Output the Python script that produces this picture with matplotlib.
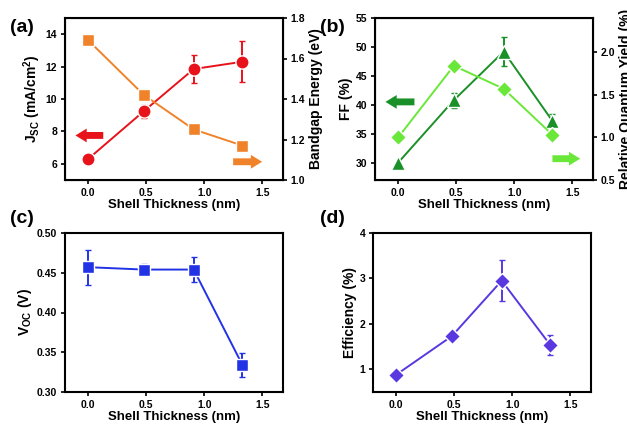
import numpy as np
import matplotlib
matplotlib.use("Agg")
import matplotlib.pyplot as plt

plt.rcParams['font.family'] = ['Liberation Sans', 'DejaVu Sans']
plt.rcParams['font.weight'] = 'bold'
plt.rcParams['axes.labelweight'] = 'bold'
plt.rcParams['mathtext.fontset'] = 'custom'
plt.rcParams['mathtext.rm'] = 'Liberation Sans:bold'
plt.rcParams['mathtext.bf'] = 'Liberation Sans:bold'
plt.rcParams['mathtext.default'] = 'bf'

# data
thick = [0.0, 0.48, 0.91, 1.33]
jsc = [6.3, 9.25, 11.85, 12.3]
jsc_err = [0.0, 0.4, 0.85, 1.25]
gap = [1.69, 1.42, 1.25, 1.17]
ff = [30.0, 40.8, 49.2, 37.2]
ff_err = [0.0, 1.3, 2.5, 1.2]
qy = [1.0, 1.84, 1.57, 1.03]
voc = [0.457, 0.454, 0.454, 0.334]
voc_err = [0.022, 0.007, 0.016, 0.015]
eff = [0.88, 1.73, 2.95, 1.53]
eff_err = [0.0, 0.0, 0.45, 0.22]

red = '#e8121a'
orange = '#f0822a'
dgreen = '#1a9028'
lgreen = '#6ae83a'
blue = '#2233e6'
purple = '#5a38e0'

fig = plt.figure(figsize=(6.27, 4.24), dpi=100)

W = 218 / 627
def box(l, t, b):
    return [l / 627, 1 - b / 424, W, (b - t) / 424]

def style(ax):
    for s in ax.spines.values():
        s.set_linewidth(1.5)
    ax.tick_params(labelsize=7.5, width=1.2, length=3, direction='out', pad=2.5)
    ax.set_xlim(-0.2, 1.68)
    ax.set_xticks([0.0, 0.5, 1.0, 1.5])
    ax.set_xticklabels(['0.0', '0.5', '1.0', '1.5'])
    ax.set_xlabel('Shell Thickness (nm)', fontsize=9.5, labelpad=1)

def arrow(ax, x0, x1, y, c):
    ax.annotate('', xy=(x1, y), xytext=(x0, y),
                arrowprops=dict(arrowstyle='simple,head_length=0.9,head_width=1.1,tail_width=0.55',
                                mutation_scale=9, fc=c, ec='none', shrinkA=0, shrinkB=0))

mk = dict(mec='white', mew=1.0, lw=1.4, elinewidth=1.4, capsize=2, capthick=1.2)

# (a)
ax = fig.add_axes(box(65, 18, 180))
style(ax)
ax.errorbar(thick, jsc, yerr=jsc_err, color=red, marker='o', ms=9.5, **mk)
ax.set_ylim(5, 15)
ax.set_yticks([6, 8, 10, 12, 14])
ax.set_ylabel(r'J$_{SC}$ (mA/cm$^{2}$)', fontsize=10, labelpad=2)
arrow(ax, 0.13, -0.11, 7.75, red)
ax2 = ax.twinx()
ax2.plot(thick, gap, color=orange, marker='s', ms=8.5, mec='white', mew=1.0, lw=1.4)
ax2.set_ylim(1.0, 1.8)
ax2.set_yticks([1.0, 1.2, 1.4, 1.6, 1.8])
ax2.tick_params(labelsize=7.5, width=1.2, length=3, pad=2.5)
ax2.set_ylabel('Bandgap Energy (eV)', fontsize=10, labelpad=3)
arrow(ax2, 1.25, 1.5, 1.09, orange)
fig.text(10 / 627, 1 - 28 / 424, '(a)', fontsize=14, fontweight='bold', va='center')

# (b)
ax = fig.add_axes(box(375, 18, 180))
style(ax)
ax.errorbar(thick, ff, yerr=ff_err, color=dgreen, marker='^', ms=9.5, **mk)
ax.set_ylim(27, 55)
ax.set_yticks([30, 35, 40, 45, 50, 55])
ax.set_ylabel('FF (%)', fontsize=10, labelpad=2)
arrow(ax, 0.14, -0.11, 40.5, dgreen)
ax2 = ax.twinx()
ax2.plot(thick, qy, color=lgreen, marker='D', ms=8, mec='white', mew=1.0, lw=1.4)
ax2.set_ylim(0.5, 2.4)
ax2.set_yticks([0.5, 1.0, 1.5, 2.0])
ax2.tick_params(labelsize=7.5, width=1.2, length=3, pad=2.5)
ax2.set_ylabel('Relative Quantum Yield (%)', fontsize=10, labelpad=3)
arrow(ax2, 1.33, 1.57, 0.75, lgreen)
fig.text(320 / 627, 1 - 28 / 424, '(b)', fontsize=14, fontweight='bold', va='center')

# (c)
ax = fig.add_axes(box(65, 233, 392))
style(ax)
ax.errorbar(thick, voc, yerr=voc_err, color=blue, marker='s', ms=8.5, **mk)
ax.set_ylim(0.30, 0.50)
ax.set_yticks([0.30, 0.35, 0.40, 0.45, 0.50])
ax.set_yticklabels(['0.30', '0.35', '0.40', '0.45', '0.50'])
ax.set_ylabel(r'V$_{OC}$ (V)', fontsize=10, labelpad=2)
fig.text(10 / 627, 1 - 218 / 424, '(c)', fontsize=14, fontweight='bold', va='center')

# (d)
ax = fig.add_axes(box(373, 233, 392))
style(ax)
ax.errorbar(thick, eff, yerr=eff_err, color=purple, marker='D', ms=8.5, **mk)
ax.set_ylim(0.5, 4.0)
ax.set_yticks([1, 2, 3, 4])
ax.set_ylabel('Efficiency (%)', fontsize=10, labelpad=2)
fig.text(320 / 627, 1 - 218 / 424, '(d)', fontsize=14, fontweight='bold', va='center')

fig.savefig('out.png', dpi=100)
